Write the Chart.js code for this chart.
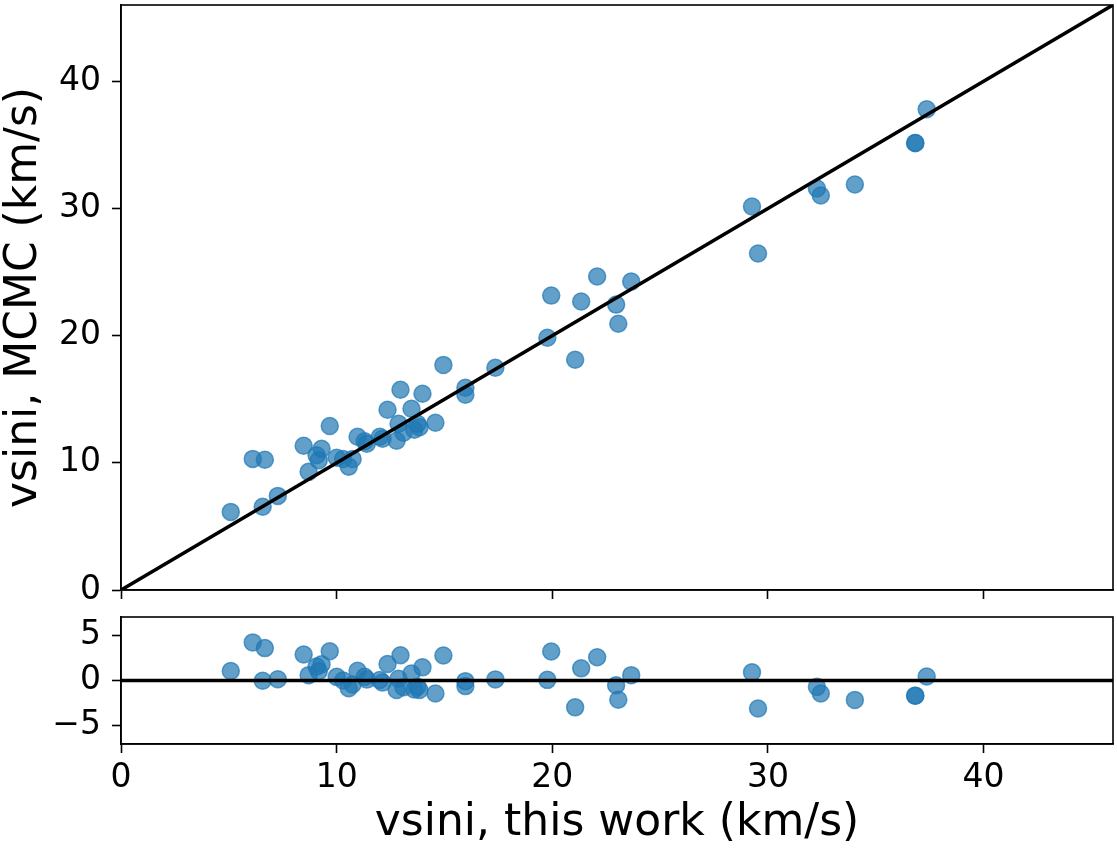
<!DOCTYPE html>
<html>
<head>
<meta charset="utf-8">
<script src="https://cdn.jsdelivr.net/npm/chart.js@4/dist/chart.umd.min.js"></script>
<style>
  html, body { margin: 0; padding: 0; background: #fff; }
  #top { position: absolute; left: 0; top: 0; width: 1117px; height: 610px; }
  #bottom { position: absolute; left: 0; top: 600px; width: 1117px; height: 250px; }
</style>
</head>
<body>
<div id="top"><canvas id="mainChart"></canvas></div>
<div id="bottom"><canvas id="residChart"></canvas></div>
<script>
// vsini measured here vs vsini from MCMC fit (km/s)
const thisWork = [5.09, 6.11, 6.67, 6.57, 7.27, 8.47, 8.70, 9.07, 9.17, 9.30,
  9.68, 10.00, 10.30, 10.56, 10.74, 10.97, 11.30, 11.40, 12.00, 12.13,
  12.36, 12.78, 12.87, 12.96, 13.10, 13.47, 13.60, 13.75, 13.84, 13.98,
  14.58, 14.95, 15.97, 15.97, 17.36, 19.77, 19.95, 21.06, 21.34, 22.08,
  22.96, 23.06, 23.66, 29.26, 29.54, 32.27, 32.45, 34.03, 36.82, 36.84, 37.36];
const mcmc = [6.14, 10.31, 10.24, 6.54, 7.40, 11.34, 9.29, 10.60, 10.20, 11.10,
  12.90, 10.40, 10.30, 9.70, 10.30, 12.05, 11.70, 11.50, 12.05, 11.90,
  14.17, 11.73, 13.07, 15.75, 12.36, 14.25, 12.60, 13.07, 12.80, 15.43,
  13.15, 17.70, 15.90, 15.35, 17.48, 19.84, 23.15, 18.10, 22.68, 24.65,
  22.44, 20.94, 24.25, 30.16, 26.46, 31.57, 31.02, 31.89, 35.15, 35.15, 37.80];

const xTicks = [0, 10, 20, 30, 40];
const yTicks = [0, 10, 20, 30, 40];
const residTicks = [-5, 0, 5];
const axisMax = 46;

const fontFamily = "'DejaVu Sans', sans-serif";
const pointFill = 'rgba(31, 119, 180, 0.7)';

// box round the plot area, like a matplotlib frame
const framePlugin = {
  id: 'frame',
  afterDraw(chart) {
    const a = chart.chartArea;
    const ctx = chart.ctx;
    ctx.save();
    ctx.strokeStyle = '#000';
    ctx.lineWidth = 1.6;
    ctx.strokeRect(a.left, a.top, a.right - a.left, a.bottom - a.top);
    ctx.restore();
  }
};

function fixedTicks(values) {
  return function(scale) {
    scale.ticks = values.map(v => ({ value: v }));
  };
}

// pin a scale's size and drop the extra room chart.js keeps for edge labels
function fitTo(size) {
  return function(scale) {
    if (scale.isHorizontal()) scale.height = size;
    else scale.width = size;
    scale.paddingTop = 0;
    scale.paddingBottom = 0;
    scale.paddingLeft = 0;
    scale.paddingRight = 0;
  };
}

function minusSign(v) {
  return String(v).replace('-', '\u2212');
}

const pairs = thisWork.map((x, i) => ({ x: x, y: mcmc[i] }));
const resid = thisWork.map((x, i) => ({ x: x, y: mcmc[i] - x }));

const scatterStyle = {
  type: 'scatter',
  backgroundColor: pointFill,
  borderColor: pointFill,
  borderWidth: 1.5,
  pointRadius: 8.5,
  pointHoverRadius: 8.5,
  order: 1
};

const lineStyle = {
  type: 'line',
  borderColor: '#000',
  borderWidth: 3.6,
  pointRadius: 0,
  fill: false,
  order: 0
};

const tickGrid = {
  drawOnChartArea: false,
  drawTicks: true,
  tickLength: 9,
  tickWidth: 1.6,
  color: '#000'
};

new Chart(document.getElementById('mainChart'), {
  data: {
    datasets: [
      Object.assign({ data: pairs }, scatterStyle),
      Object.assign({ data: [{ x: 0, y: 0 }, { x: axisMax, y: axisMax }] }, lineStyle)
    ]
  },
  options: {
    responsive: true,
    maintainAspectRatio: false,
    animation: false,
    layout: { autoPadding: false, padding: { top: 5, right: 4, left: 0, bottom: 0 } },
    plugins: { legend: { display: false }, tooltip: { enabled: false } },
    scales: {
      x: {
        type: 'linear',
        min: 0,
        max: axisMax,
        afterBuildTicks: fixedTicks(xTicks),
        afterFit: fitTo(20),
        grid: tickGrid,
        border: { color: '#000', width: 1.6 },
        ticks: { callback: () => '' }
      },
      y: {
        type: 'linear',
        min: 0,
        max: axisMax,
        afterBuildTicks: fixedTicks(yTicks),
        afterFit: fitTo(121),
        grid: tickGrid,
        border: { color: '#000', width: 1.6 },
        ticks: { color: '#000', padding: 11, font: { family: fontFamily, size: 33 } },
        title: {
          display: true,
          text: 'vsini, MCMC (km/s)',
          color: '#000',
          padding: { top: -2, bottom: 0 },
          font: { family: fontFamily, size: 44 }
        }
      }
    }
  },
  plugins: [framePlugin]
});

new Chart(document.getElementById('residChart'), {
  data: {
    datasets: [
      Object.assign({ data: resid }, scatterStyle),
      Object.assign({ data: [{ x: 0, y: 0 }, { x: axisMax, y: 0 }] }, lineStyle)
    ]
  },
  options: {
    responsive: true,
    maintainAspectRatio: false,
    animation: false,
    layout: { autoPadding: false, padding: { top: 17, right: 4, left: 0, bottom: 0 } },
    plugins: { legend: { display: false }, tooltip: { enabled: false } },
    scales: {
      x: {
        type: 'linear',
        min: 0,
        max: axisMax,
        afterBuildTicks: fixedTicks(xTicks),
        afterFit: fitTo(106),
        grid: tickGrid,
        border: { color: '#000', width: 1.6 },
        ticks: { color: '#000', padding: 6, maxRotation: 0, font: { family: fontFamily, size: 33 } },
        title: {
          display: true,
          text: 'vsini, this work (km/s)',
          color: '#000',
          padding: 0,
          font: { family: fontFamily, size: 44 }
        }
      },
      y: {
        type: 'linear',
        min: -7,
        max: 7,
        afterBuildTicks: fixedTicks(residTicks),
        afterFit: fitTo(121),
        grid: tickGrid,
        border: { color: '#000', width: 1.6 },
        ticks: { color: '#000', padding: 11, font: { family: fontFamily, size: 33 }, callback: v => minusSign(v) }
      }
    }
  },
  plugins: [framePlugin]
});
</script>
</body>
</html>
